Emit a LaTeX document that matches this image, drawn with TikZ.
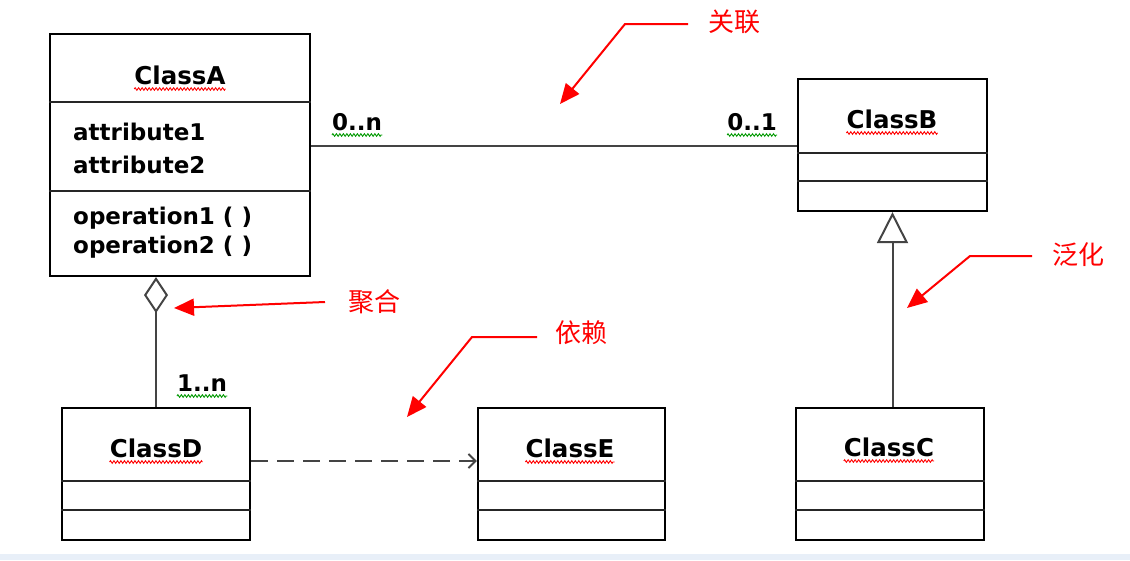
\documentclass[tikz,border=0pt]{standalone}
\usepackage{fontspec}
\setmainfont{DejaVu Sans}
\newfontfamily\cjk{Noto Sans CJK SC}
\usetikzlibrary{arrows.meta,decorations.pathmorphing,calc}
\definecolor{band}{HTML}{E8EFF8}
\definecolor{connc}{HTML}{444444}
\begin{document}
\begin{tikzpicture}[x=1pt,y=-1pt,
  classbox/.style={draw=black,line width=2.2pt,inner sep=0pt},
  divider/.style={draw=black!85,line width=2pt},
  lbl/.style={inner sep=0pt,font=\fontsize{23}{27}\selectfont\bfseries},
  clsname/.style={inner sep=0pt,font=\fontsize{24.5}{28}\selectfont\bfseries},
  note/.style={inner sep=0pt,text=red,font=\fontsize{26}{30}\selectfont\cjk},
  notearrow/.style={draw=red,line width=2pt,-{Triangle[length=20pt,width=17pt]}},
  conn/.style={draw=connc,line width=2pt},
  squig/.style={draw=#1,line width=0.9pt,decorate,decoration={zigzag,segment length=3.5pt,amplitude=1.3pt}}]
\useasboundingbox (0,0) rectangle (1130,560);
\fill[white] (0,0) rectangle (1130,560);
\fill[band] (0,554) rectangle (1130,560);

% class boxes
\node[classbox,minimum width=260pt,minimum height=242pt] (A) at (180,155) {};
\node[classbox,minimum width=189pt,minimum height=132pt] (B) at (892.5,145) {};
\node[classbox,minimum width=188pt,minimum height=132pt] (C) at (890,474) {};
\node[classbox,minimum width=188pt,minimum height=132pt] (D) at (156,474) {};
\node[classbox,minimum width=187pt,minimum height=132pt] (E) at (571.5,474) {};

% dividers
\draw[divider] ($(A.north west)+(0,69)$) -- ($(A.north east)+(0,69)$);
\draw[divider] ($(A.north west)+(0,158)$) -- ($(A.north east)+(0,158)$);
\foreach \n/\a/\b in {B/75/103,C/74/103,D/74/103,E/74/103}{
  \draw[divider] ($(\n.north west)+(0,\a)$) -- ($(\n.north east)+(0,\a)$);
  \draw[divider] ($(\n.north west)+(0,\b)$) -- ($(\n.north east)+(0,\b)$);
}

% texts
\node[clsname,anchor=base] (nA) at (180,84) {ClassA};
\node[lbl,anchor=base west] (a1) at (73,140) {attribute1};
\node[lbl,anchor=base west] (a2) at (73,173) {attribute2};
\node[lbl,anchor=base west] (o1) at (73,224) {operation1 ( )};
\node[lbl,anchor=base west] (o2) at (73,253) {operation2 ( )};
\node[clsname,anchor=base] (nB) at (892,128) {ClassB};
\node[clsname,anchor=base] (nC) at (889,456) {ClassC};
\node[clsname,anchor=base] (nD) at (156,457) {ClassD};
\node[clsname,anchor=base] (nE) at (570,457) {ClassE};
\node[lbl,anchor=base west] (m1) at (332,130) {0..n};
\node[lbl,anchor=base east] (m2) at (777,130) {0..1};
\node[lbl,anchor=base west] (m3) at (177,391) {1..n};

% squiggles
\foreach \t in {nA,nB,nC,nD,nE}{
  \draw[squig=red] ([yshift=-5pt]\t.base west) -- ([yshift=-5pt]\t.base east);
}
\foreach \t in {m1,m2,m3}{
  \draw[squig=green!60!black] ([yshift=-5pt]\t.base west) -- ([yshift=-5pt]\t.base east);
}

% connectors
\coordinate (aL) at ([yshift=9pt]A.east);
\draw[conn] (aL) -- (aL -| B.west);
\draw[conn,-{Triangle[open,length=31pt,width=31pt]}] (B.south |- C.north) -- (B.south);
\draw[conn,-{Diamond[open,length=36pt,width=24pt]}] (D.north) -- (D.north |- A.south);
\coordinate (dL) at ([yshift=13pt]D.east);
\draw[conn,dash pattern=on 17pt off 9pt,-{Straight Barb[length=7pt,width=14pt]}] (dL) -- (dL -| E.west);

% red notes
\node[note,anchor=west] (t1) at (708,22) {关联};
\node[note,anchor=west] (t2) at (1052,255) {泛化};
\node[note,anchor=west] (t3) at (348,302) {聚合};
\node[note,anchor=west] (t4) at (555,333) {依赖};
\coordinate (p1) at (560,104);
\coordinate (p2) at (907,308);
\coordinate (p3) at (174,308);
\coordinate (p4) at (407,417);
\draw[notearrow] ([xshift=-20pt,yshift=-2pt]t1.west) -- ++(-63,0) -- (p1);
\draw[notearrow] ([xshift=-20pt,yshift=-1pt]t2.west) -- ++(-62,0) -- (p2);
\draw[notearrow] ([xshift=-23pt]t3.west) -- (p3);
\draw[notearrow] ([xshift=-18pt,yshift=-4pt]t4.west) -- ++(-65,0) -- (p4);
\end{tikzpicture}
\end{document}
